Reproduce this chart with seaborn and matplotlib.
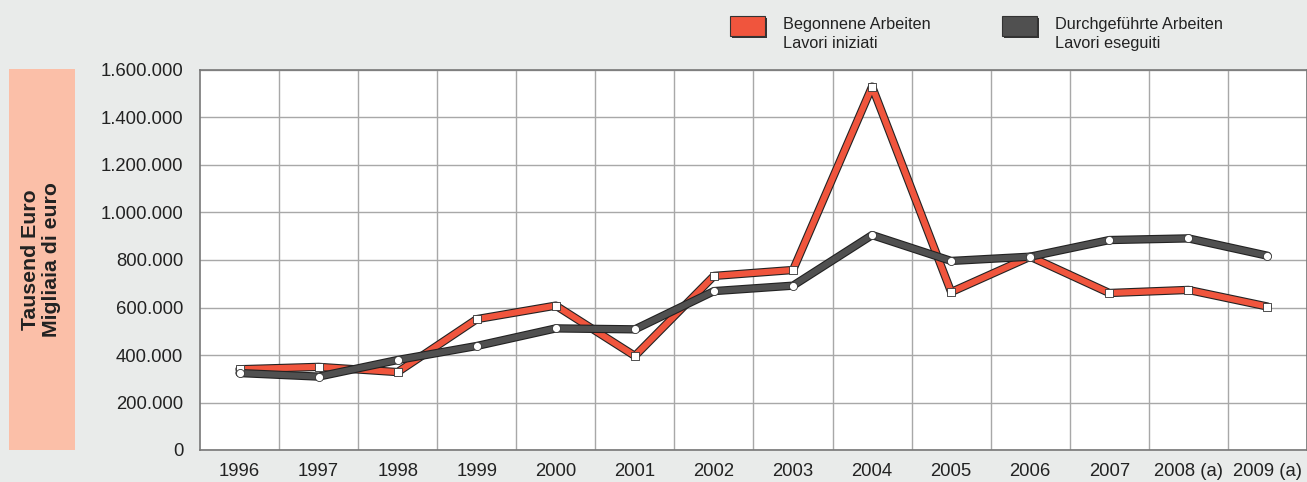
import numpy as np
import pandas as pd
import matplotlib.pyplot as plt
import matplotlib.ticker as mticker
import matplotlib.patheffects as pe
from matplotlib.patches import Rectangle
import seaborn as sns

years = ["1996", "1997", "1998", "1999", "2000", "2001", "2002",
         "2003", "2004", "2005", "2006", "2007", "2008 (a)", "2009 (a)"]
begonnene = [340000, 350000, 328000, 551000, 608000, 396000, 733000,
             758000, 1530000, 665000, 814000, 661000, 674000, 604000]
durchgefuehrt = [324000, 309000, 379000, 438000, 512000, 508000, 669000,
                 692000, 905000, 796000, 814000, 884000, 891000, 818000]
series_names = ["Begonnene Arbeiten\nLavori iniziati",
                "Durchgeführte Arbeiten\nLavori eseguiti"]
yticks = [0, 200000, 400000, 600000, 800000, 1000000, 1200000, 1400000, 1600000]

RED = "#f0553d"
GREY = "#505050"
BG = "#e9ebea"
W, H = 1307, 482

sns.set_theme(style="white")
plt.rcParams["font.family"] = ["Liberation Sans", "DejaVu Sans"]

df = pd.DataFrame({"pos": np.arange(len(years)),
                   "begonnene": begonnene,
                   "durch": durchgefuehrt})

fig = plt.figure(figsize=(W / 100, H / 100), dpi=100, facecolor=BG)
ax = fig.add_axes([200 / W, 1 - 450 / H, 1 - 200 / W, 380 / H])
ax.set_facecolor("white")

# thick coloured lines with a thin dark outline
outline = [pe.Stroke(linewidth=6.0, foreground="#222222"), pe.Normal()]
sns.lineplot(data=df, x="pos", y="begonnene", ax=ax, color=RED, linewidth=4.4,
             path_effects=outline, zorder=3)
sns.lineplot(data=df, x="pos", y="durch", ax=ax, color=GREY, linewidth=4.4,
             path_effects=outline, zorder=4)
# small white markers on top
sns.scatterplot(data=df, x="pos", y="begonnene", ax=ax, marker="s", s=32,
                color="white", edgecolor="#333333", linewidth=0.6, zorder=5)
sns.scatterplot(data=df, x="pos", y="durch", ax=ax, marker="o", s=34,
                color="white", edgecolor="#333333", linewidth=0.6, zorder=6)

ax.set_xlim(-0.5, len(years) - 0.5)
ax.set_ylim(0, 1600000)
ax.set_xticks(np.arange(len(years)))
ax.set_xticklabels(years)
ax.set_xticks(np.arange(len(years)) + 0.5, minor=True)
ax.set_yticks(yticks)
ax.yaxis.set_major_formatter(mticker.FuncFormatter(lambda v, p: f"{int(v):,}".replace(",", ".")))
ax.grid(False)
ax.grid(which="minor", axis="x", color="#a8a8a8", linewidth=1.0)
ax.grid(which="major", axis="y", color="#a8a8a8", linewidth=1.0)
ax.tick_params(axis="both", which="both", length=0, labelsize=13.3, colors="#222222")
ax.tick_params(axis="y", pad=12)
ax.tick_params(axis="x", pad=9)
ax.set_xlabel("")
ax.set_ylabel("")
for s in ax.spines.values():
    s.set_color("#777777")
    s.set_linewidth(1.2)

# salmon label box
fig.patches.append(Rectangle((9 / W, 1 - 450 / H), 66 / W, 381 / H,
                             transform=fig.transFigure, facecolor="#fbbfa8",
                             edgecolor="none", zorder=0))
fig.text(41 / W, 1 - 260 / H, "Tausend Euro\nMigliaia di euro", rotation=90,
         ha="center", va="center", fontsize=15.3, fontweight="bold", color="#222222",
         linespacing=1.1)

# legend
for x0, col, name in [(730, RED, series_names[0]), (1002, GREY, series_names[1])]:
    fig.patches.append(Rectangle(((x0 + 2) / W, 1 - 38 / H), 35 / W, 20 / H,
                                 transform=fig.transFigure, facecolor="#333333",
                                 edgecolor="none", zorder=1))
    fig.patches.append(Rectangle((x0 / W, 1 - 36 / H), 35 / W, 20 / H,
                                 transform=fig.transFigure, facecolor=col,
                                 edgecolor="#333333", linewidth=0.8, zorder=2))
    fig.text((x0 + 53) / W, 1 - 34 / H, name, ha="left", va="center",
             fontsize=11.7, color="#222222", linespacing=1.3)

fig.savefig("out.png", dpi=100, facecolor=BG)
